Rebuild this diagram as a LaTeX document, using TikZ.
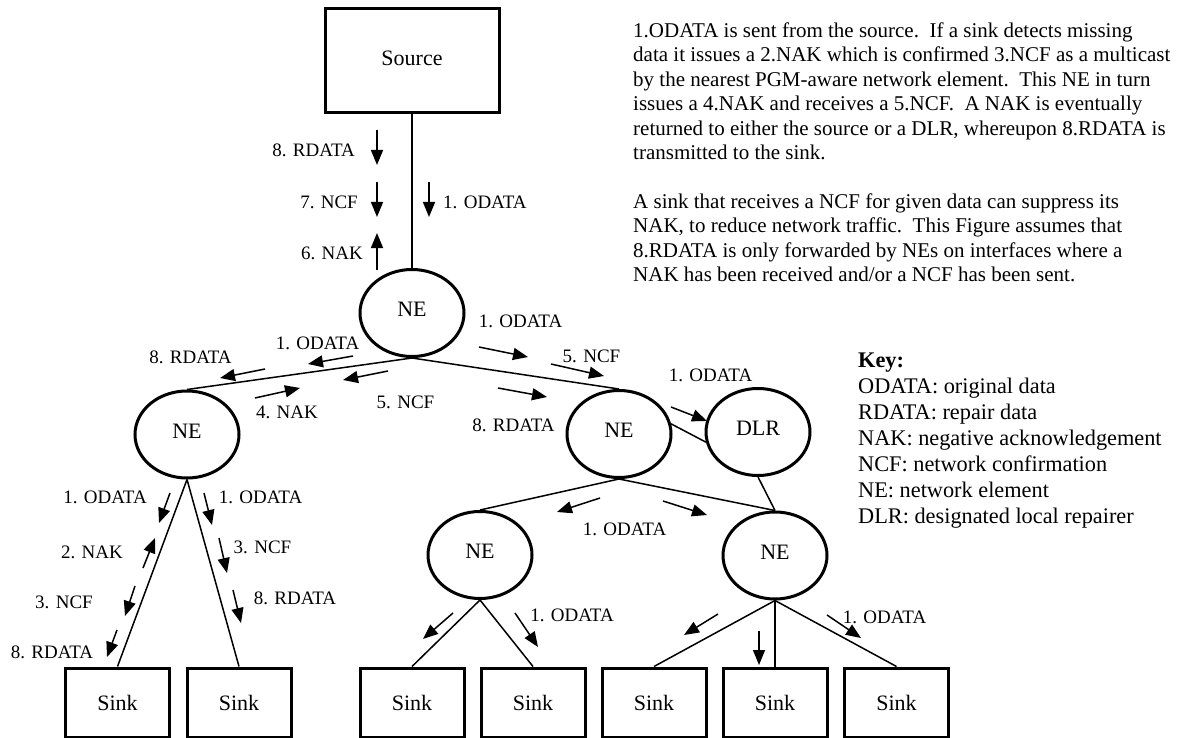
\documentclass[tikz,border=0pt]{standalone}
\usepackage{fontspec}
\setmainfont{Liberation Serif}
\usetikzlibrary{arrows.meta,shapes.geometric}
\begin{document}
\begin{tikzpicture}[x=1pt,y=-1pt,
  box/.style={draw,line width=3pt,rectangle,inner sep=0pt,font=\fontsize{22}{26}\selectfont},
  srcbox/.style={box,minimum width=174pt,minimum height=104pt,text depth=6pt},
  sinkbox/.style={box,minimum width=104pt,minimum height=69pt},
  elem/.style={draw,line width=3pt,ellipse,minimum width=104pt,minimum height=87pt,inner sep=0pt,font=\fontsize{22}{26}\selectfont,text depth=7pt},
  link/.style={line width=1.5pt},
  msg/.style={line width=1.5pt,-{Triangle[length=15pt,width=12pt]}},
  lbl/.style={inner sep=0pt,font=\fontsize{19}{22}\selectfont},
  ptxt/.style={inner sep=0pt,anchor=base west,font=\fontsize{21}{24.44}\selectfont},
  ktxt/.style={inner sep=0pt,anchor=base west,font=\fontsize{22.3}{26}\selectfont}]
\useasboundingbox (0,0) rectangle (1180,738);

% nodes
\node[srcbox] (src) at (412,61) {Source};
\node[elem] (ne0) at (412,313) {NE};
\node[elem] (ne1) at (187,434.5) {NE};
\node[elem] (ne2) at (619,434) {NE};
\node[elem] (dlr) at (758,432) {DLR};
\node[elem] (ne3) at (480,555) {NE};
\node[elem] (ne4) at (775,555.5) {NE};
\node[sinkbox] (s1) at (117.5,702.5) {Sink};
\node[sinkbox] (s2) at (239,702.5) {Sink};
\node[sinkbox] (s3) at (412,702.5) {Sink};
\node[sinkbox] (s4) at (533,702.5) {Sink};
\node[sinkbox] (s5) at (654,702.5) {Sink};
\node[sinkbox] (s6) at (775,702.5) {Sink};
\node[sinkbox] (s7) at (896.5,702.5) {Sink};

% links
\draw[link] (src.south) -- (ne0.north);
\draw[link] (ne0.south) -- (ne1.north);
\draw[link] (ne0.south) -- (ne2.north);
\draw[link] (ne2.11) -- (dlr.191);
\draw[link] (dlr.south) -- (ne4.north);
\draw[link] (ne2.south) -- (ne3.north);
\draw[link] (ne2.south) -- (ne4.north);
\draw[link] (ne1.south) -- (s1.north);
\draw[link] (ne1.south) -- (s2.north);
\draw[link] (ne3.south) -- (s3.north);
\draw[link] (ne3.south) -- (s4.north);
\draw[link] (ne4.south) -- (s5.north);
\draw[link] (ne4.south) -- (s6.north);
\draw[link] (ne4.south) -- (s7.north);

% messages on source link
\draw[msg] (377,130) -- (377,165);
\node[lbl,anchor=east] (l1) at (355,150) {8. RDATA};
\draw[msg] (377,182) -- (377,217);
\node[lbl,anchor=east] (l2) at (358,202) {7. NCF};
\draw[msg] (377,270) -- (377,233);
\node[lbl,anchor=east] (l3) at (363,253) {6. NAK};
\draw[msg] (429,182) -- (429,217);
\node[lbl,anchor=west] (l4) at (443,202) {1. ODATA};

% ne0 - ne1
\draw[msg] (353,356) -- (308,364);
\node[lbl] (l5) at (317.5,343) {1. ODATA};
\draw[msg] (265,369) -- (220,378);
\node[lbl] (l6) at (190.5,357) {8. RDATA};
\draw[msg] (255,398) -- (300,388);
\node[lbl] (l7) at (287,412) {4. NAK};
\draw[msg] (388,371) -- (343,380);
\node[lbl] (l8) at (405.5,402) {5. NCF};

% ne0 - ne2
\draw[msg] (479,347) -- (528,357);
\node[lbl] (l9) at (520.5,321) {1. ODATA};
\draw[msg] (551,364) -- (604,376);
\node[lbl] (l10) at (591.5,356) {5. NCF};
\draw[msg] (498,388) -- (547,397);
\node[lbl] (l11) at (513.5,425) {8. RDATA};
\draw[msg] (671,407) -- (707,421);
\node[lbl] (l12) at (710.5,375) {1. ODATA};

% ne2 - ne3/ne4
\draw[msg] (600,498) -- (557,512);
\draw[msg] (663,501) -- (707,515);
\node[lbl] (l13) at (624.5,529) {1. ODATA};

% ne1 - sinks
\draw[msg] (170,493) -- (159,523);
\node[lbl] (l14) at (105,497) {1. ODATA};
\draw[msg] (143,568) -- (155,538);
\node[lbl] (l15) at (92,552) {2. NAK};
\draw[msg] (135,586) -- (125,616);
\node[lbl] (l16) at (64,602) {3. NCF};
\draw[msg] (117,630) -- (107,657);
\node[lbl] (l17) at (52,652) {8. RDATA};
\draw[msg] (204,493) -- (212,525);
\node[lbl] (l18) at (260.5,497) {1. ODATA};
\draw[msg] (219,538) -- (227,573);
\node[lbl] (l19) at (262.5,547) {3. NCF};
\draw[msg] (233,590) -- (241,623);
\node[lbl] (l20) at (295,598) {8. RDATA};

% ne3 - sinks
\draw[msg] (453,613) -- (423,639);
\draw[msg] (515,613) -- (538,647);
\node[lbl] (l21) at (572,615) {1. ODATA};

% ne4 - sinks
\draw[msg] (718,614) -- (684,635);
\draw[msg] (759,631) -- (759,665);
\draw[msg] (827,615) -- (861,638);
\node[lbl] (l22) at (884.5,617) {1. ODATA};

% explanatory text
\node[ptxt] (p1) at (633,37.3) {1.ODATA is sent from the source.\ \ If a sink detects missing};
\node[ptxt] (p2) at (633,61.74) {data it issues a 2.NAK which is confirmed 3.NCF as a multicast};
\node[ptxt] (p3) at (633,86.18) {by the nearest PGM-aware network element.\ \ This NE in turn};
\node[ptxt] (p4) at (633,110.62) {issues a 4.NAK and receives a 5.NCF.\ \ A NAK is eventually};
\node[ptxt] (p5) at (633,135.06) {returned to either the source or a DLR, whereupon 8.RDATA is};
\node[ptxt] (p6) at (633,159.5) {transmitted to the sink.};
\node[ptxt] (p7) at (633,208.38) {A sink that receives a NCF for given data can suppress its};
\node[ptxt] (p8) at (633,232.82) {NAK, to reduce network traffic.\ \ This Figure assumes that};
\node[ptxt] (p9) at (633,257.26) {8.RDATA is only forwarded by NEs on interfaces where a};
\node[ptxt] (p10) at (633,281.7) {NAK has been received and/or a NCF has been sent.};

% key
\node[ktxt] (k0) at (858,367) {\textbf{Key:}};
\node[ktxt] (k1) at (858,393) {ODATA: original data};
\node[ktxt] (k2) at (858,419) {RDATA: repair data};
\node[ktxt] (k3) at (858,445) {NAK: negative acknowledgement};
\node[ktxt] (k4) at (858,471) {NCF: network confirmation};
\node[ktxt] (k5) at (858,497) {NE: network element};
\node[ktxt] (k6) at (858,523) {DLR: designated local repairer};
\end{tikzpicture}
\end{document}
